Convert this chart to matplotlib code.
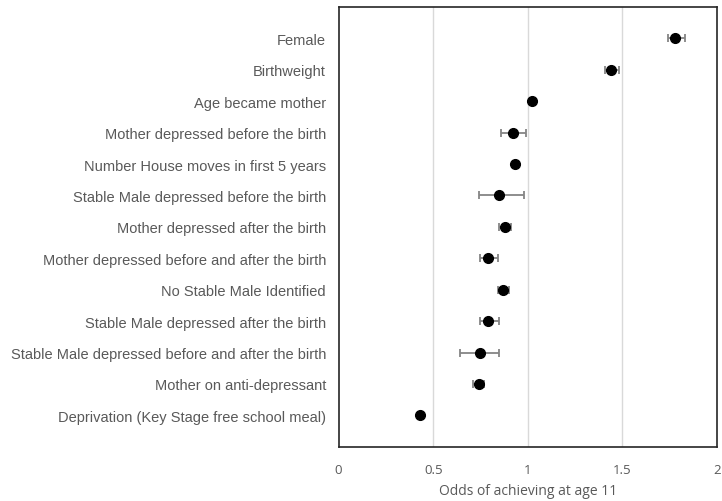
import numpy as np
import matplotlib.pyplot as plt

# odds ratios with lower / upper limits
factors = [
    "Female",
    "Birthweight",
    "Age became mother",
    "Mother depressed before the birth",
    "Number House moves in first 5 years",
    "Stable Male depressed before the birth",
    "Mother depressed after the birth",
    "Mother depressed before and after the birth",
    "No Stable Male Identified",
    "Stable Male depressed after the birth",
    "Stable Male depressed before and after the birth",
    "Mother on anti-depressant",
    "Deprivation (Key Stage free school meal)",
]
odds = [1.78, 1.44, 1.02, 0.92, 0.93, 0.85, 0.88, 0.79, 0.87, 0.79, 0.75, 0.74, 0.43]
lower = [1.74, 1.41, 1.01, 0.86, 0.92, 0.74, 0.85, 0.745, 0.84, 0.745, 0.64, 0.71, 0.42]
upper = [1.83, 1.48, 1.03, 0.99, 0.94, 0.98, 0.91, 0.84, 0.90, 0.85, 0.85, 0.77, 0.44]

odds = np.array(odds)
err = [odds - np.array(lower), np.array(upper) - odds]
ypos = np.arange(len(factors)) + 1

fig = plt.figure(figsize=(7.22, 5.02), dpi=100)
ax = fig.add_axes([0.469, 0.108, 0.524, 0.876])

for x in [0.5, 1, 1.5]:
    ax.axvline(x, color="#d9d9d9", linewidth=1, zorder=0)

ax.errorbar(odds, ypos, xerr=err, fmt="none", ecolor="#858585",
            elinewidth=1.3, capsize=3, capthick=1.3, zorder=2)
ax.plot(odds, ypos, "o", color="black", markersize=7, zorder=3)

ax.set_xlim(0, 2)
ax.set_ylim(len(factors) + 1, 0)
ax.set_yticks(ypos)
ax.set_yticklabels(factors, fontsize=10.5, color="#595959", family="Liberation Sans")
ax.set_xticks([0, 0.5, 1, 1.5, 2])
ax.set_xticklabels(["0", "0.5", "1", "1.5", "2"], fontsize=9.5, color="#595959", family="Open Sans")
ax.set_xlabel("Odds of achieving at age 11", fontsize=10, color="#595959",
              family="Open Sans", labelpad=5)
ax.tick_params(length=0)
ax.tick_params(axis="y", pad=9)
ax.tick_params(axis="x", pad=12)
for s in ax.spines.values():
    s.set_linewidth(1.2)
    s.set_color("#262626")

fig.savefig("out.png", dpi=100)
